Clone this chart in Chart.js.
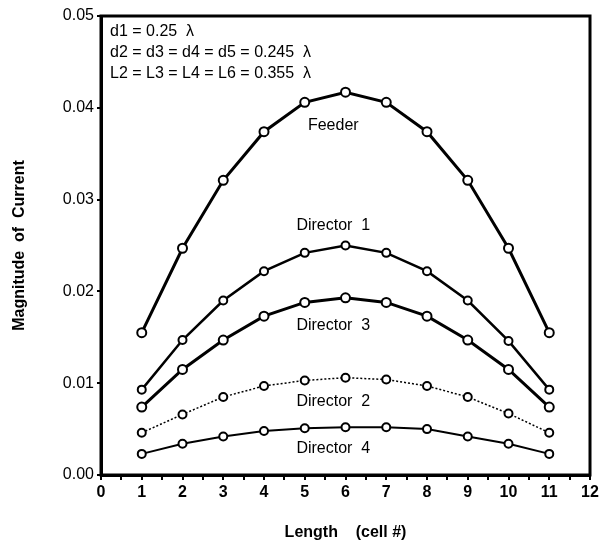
<!DOCTYPE html>
<html>
<head>
<meta charset="utf-8">
<script src="https://cdn.jsdelivr.net/npm/chart.js@4/dist/chart.umd.min.js"></script>
<style>
html,body{margin:0;padding:0;background:#fff;}
#wrap{width:604px;height:544px;position:relative;}
</style>
</head>
<body>
<div id="wrap"><canvas id="c" width="604" height="544"></canvas></div>
<script>
// ---- data ----
const cells = [1, 2, 3, 4, 5, 6, 7, 8, 9, 10, 11];
const feeder    = [0.0155, 0.0247, 0.0321, 0.0374, 0.0406, 0.0417, 0.0406, 0.0374, 0.0321, 0.0247, 0.0155];
const director1 = [0.0093, 0.0147, 0.0190, 0.0222, 0.0242, 0.0250, 0.0242, 0.0222, 0.0190, 0.0146, 0.0093];
const director3 = [0.0074, 0.0115, 0.0147, 0.0173, 0.0188, 0.0193, 0.0188, 0.0173, 0.0147, 0.0115, 0.0074];
const director2 = [0.0046, 0.0066, 0.0085, 0.0097, 0.0103, 0.0106, 0.0104, 0.0097, 0.0085, 0.0067, 0.0046];
const director4 = [0.0023, 0.0034, 0.0042, 0.0048, 0.0051, 0.0052, 0.0052, 0.0050, 0.0042, 0.0034, 0.0023];

const seriesNames = ['Feeder', 'Director 1', 'Director 3', 'Director 2', 'Director 4'];
const labelX = [5.7, 5.7, 5.7, 5.7, 5.7];
const labelY = [0.0381, 0.0272, 0.0163, 0.0080, 0.0029];
const paramLines = ['d1 = 0.25  λ', 'd2 = d3 = d4 = d5 = 0.245  λ', 'L2 = L3 = L4 = L6 = 0.355  λ'];

const xTitle = 'Length    (cell #)';
const yTitle = 'Magnitude  of  Current';

const FONT = '"Liberation Sans", Arial, Helvetica, sans-serif';

function pts(arr){ return cells.map((c,i)=>({x:c, y:arr[i]})); }

function ds(label, arr, width, dash, r){
  return {
    label: label, data: pts(arr),
    borderColor: '#000', borderWidth: width, borderDash: dash,
    pointStyle: 'circle', pointRadius: r, pointBorderWidth: 2,
    pointBackgroundColor: '#fff', pointBorderColor: '#000',
    fill: false, tension: 0
  };
}

const annot = {
  id: 'annot',
  afterDatasetsDraw(chart){
    const ctx = chart.ctx, xs = chart.scales.x, ys = chart.scales.y, a = chart.chartArea;
    ctx.save();
    ctx.fillStyle = '#000';
    ctx.font = '16px ' + FONT;
    ctx.textAlign = 'center';
    ctx.textBaseline = 'middle';
    seriesNames.forEach((n,i)=>{
      ctx.fillText(n.replace(' ', '  '), xs.getPixelForValue(labelX[i]), ys.getPixelForValue(labelY[i]));
    });
    ctx.textAlign = 'left';
    paramLines.forEach((t,i)=>{
      ctx.fillText(t, a.left + 9, a.top + 16 + i * 21);
    });
    // frame
    ctx.strokeStyle = '#000';
    ctx.lineWidth = 3;
    ctx.strokeRect(a.left, a.top, a.right - a.left, a.bottom - a.top);
    ctx.restore();
  }
};

new Chart(document.getElementById('c'), {
  type: 'line',
  data: {
    datasets: [
      ds('Feeder', feeder, 3, [], 4.5),
      ds('Director 1', director1, 2.5, [], 4),
      ds('Director 3', director3, 3, [], 4.5),
      ds('Director 2', director2, 1.5, [2, 2], 4),
      ds('Director 4', director4, 2, [], 4)
    ]
  },
  options: {
    responsive: false,
    animation: false,
    devicePixelRatio: 1,
    layout: { padding: { left: 0, right: 14, top: 16, bottom: 0 } },
    plugins: { legend: { display: false }, tooltip: { enabled: false } },
    scales: {
      x: {
        type: 'linear', min: 0, max: 12,
        afterFit(s){ s.height = 69; },
        ticks: {
          stepSize: 0.5, autoSkip: false, maxRotation: 0, color: '#000', padding: 3,
          font: { family: FONT, size: 16, weight: 'bold' },
          callback: v => Number.isInteger(v) ? String(v) : ''
        },
        grid: { display: true, drawOnChartArea: false, drawTicks: true, tickLength: 5, color: '#000', lineWidth: 2 },
        border: { display: true, color: '#000', width: 3 },
        title: { display: true, text: xTitle, color: '#000', font: { family: FONT, size: 16, weight: 'bold' }, padding: { top: 14, bottom: 2 } }
      },
      y: {
        min: 0, max: 0.05,
        afterFit(s){ s.width = 101; },
        ticks: {
          stepSize: 0.01, color: '#000', padding: 3,
          font: { family: FONT, size: 16 },
          callback: v => v.toFixed(2)
        },
        grid: { display: true, drawOnChartArea: false, drawTicks: true, tickLength: 4, color: '#000', lineWidth: 2 },
        border: { display: true, color: '#000', width: 3 },
        title: { display: true, text: yTitle, color: '#000', font: { family: FONT, size: 16, weight: 'bold' }, padding: { top: 10, bottom: 0 } }
      }
    }
  },
  plugins: [annot]
});
</script>
</body>
</html>
